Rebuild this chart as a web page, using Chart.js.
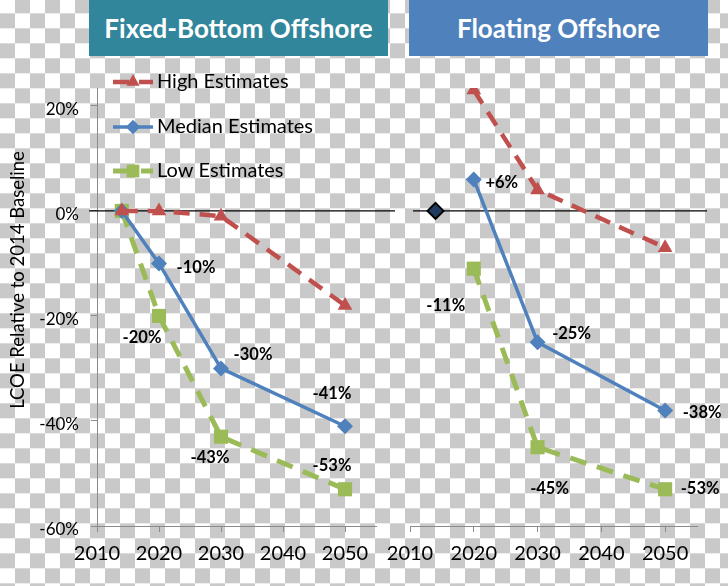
<!DOCTYPE html>
<html>
<head>
<meta charset="utf-8">
<script src="https://cdn.jsdelivr.net/npm/chart.js@4.4.0/dist/chart.umd.min.js"></script>
<style>
html, body { margin: 0; padding: 0; }
body {
  width: 728px; height: 586px; position: relative; overflow: hidden;
  background: repeating-conic-gradient(#c9c9c9 0 25%, #ffffff 0 50%) 0 -1.7px / 30px 30px;
  font-family: Lato, Carlito, "Open Sans", sans-serif;
}
.head {
  position: absolute; top: 0; height: 56px; width: 299px;
  display: flex; align-items: center; justify-content: center;
  color: #fff; font-weight: bold; font-size: 26px;
}
#headL { left: 89px; background: #31869b; }
#headR { left: 409px; background: #4f81bd; }
canvas { position: absolute; top: 0; }
#left { left: 0; }
#right { left: 370px; }
</style>
</head>
<body>
<div class="head" id="headL"></div>
<div class="head" id="headR"></div>
<canvas id="left" width="400" height="586"></canvas>
<canvas id="right" width="358" height="586"></canvas>
<script>
// values (% change vs 2014 baseline)
const fixedYears = [2014, 2020, 2030, 2050];
const fixedHigh = [0, 0, -1, -18];
const fixedMedian = [0, -10, -30, -41];
const fixedLow = [0, -20, -43, -53];

const floatYears = [2020, 2030, 2050];
const floatHigh = [23, 4, -7];
const floatMedian = [6, -25, -38];
const floatLow = [-11, -45, -53];

const baseYear = [2014];
const baseValue = [0];

const seriesNames = ['High Estimates', 'Median Estimates', 'Low Estimates'];
const panelTitles = ['Fixed-Bottom Offshore', 'Floating Offshore'];
const xTickValues = [2010, 2020, 2030, 2040, 2050];
const yTickValues = [-60, -40, -20, 0, 20];
const yTitle = 'LCOE Relative to 2014 Baseline';

document.getElementById('headL').textContent = panelTitles[0];
document.getElementById('headR').textContent = panelTitles[1];

const RED = '#c0504d', BLUE = '#4f81bd', GREEN = '#9bbb59';
const AXIS = '#8a8a8a';
const FONT = 'Lato, Carlito, "Open Sans", sans-serif';
Chart.defaults.font.family = FONT;
Chart.defaults.color = '#000';

function pts(xs, ys) {
  return xs.map((x, i) => ({ x: x, y: ys[i] }));
}

function series(years, high, median, low) {
  return [
    {
      label: seriesNames[0], data: pts(years, high),
      borderColor: RED, backgroundColor: RED, borderWidth: 4.5, borderDash: [16, 10],
      pointStyle: 'triangle', pointRadius: 8.5, pointBorderWidth: 0, pointBackgroundColor: RED
    },
    {
      label: seriesNames[1], data: pts(years, median),
      borderColor: BLUE, backgroundColor: BLUE, borderWidth: 3.5,
      pointStyle: 'rectRot', pointRadius: 8, pointBorderWidth: 0, pointBackgroundColor: BLUE
    },
    {
      label: seriesNames[2], data: pts(years, low),
      borderColor: GREEN, backgroundColor: GREEN, borderWidth: 5, borderDash: [17, 11],
      pointStyle: 'rect', pointRadius: 10, pointBorderWidth: 0, pointBackgroundColor: GREEN
    }
  ];
}

// black line at 0%
const zeroLine = {
  id: 'zeroLine',
  beforeDatasetsDraw(chart, args, opts) {
    const y = chart.scales.y.getPixelForValue(0);
    const ctx = chart.ctx;
    ctx.save();
    ctx.strokeStyle = '#000';
    ctx.lineWidth = 1.2;
    ctx.beginPath();
    ctx.moveTo(opts.from, y);
    ctx.lineTo(opts.to, y);
    ctx.stroke();
    ctx.restore();
  }
};

// percent labels next to points
const pointLabels = {
  id: 'pointLabels',
  afterDatasetsDraw(chart, args, opts) {
    const ctx = chart.ctx;
    ctx.save();
    ctx.font = 'bold 16.5px ' + FONT;
    ctx.fillStyle = '#000';
    ctx.textAlign = 'center';
    ctx.textBaseline = 'middle';
    (opts.items || []).forEach(it => {
      const el = chart.getDatasetMeta(it.ds).data[it.i];
      const v = chart.data.datasets[it.ds].data[it.i].y;
      const txt = (v > 0 ? '+' : '') + v + '%';
      ctx.fillText(txt, el.x + it.dx, el.y + it.dy);
    });
    ctx.restore();
  }
};

// legend: line sample with marker, like the office style one
const lineLegend = {
  id: 'lineLegend',
  afterDraw(chart, args, opts) {
    if (!opts.rows) return;
    const ctx = chart.ctx;
    ctx.save();
    chart.data.datasets.slice(0, 3).forEach((ds, i) => {
      const y = opts.rows[i];
      ctx.save();
      ctx.strokeStyle = ds.borderColor;
      ctx.lineWidth = ds.borderWidth;
      ctx.setLineDash(ds.borderDash || []);
      ctx.beginPath();
      ctx.moveTo(opts.x0, y);
      ctx.lineTo(opts.x1, y);
      ctx.stroke();
      ctx.restore();
      ctx.fillStyle = ds.pointBackgroundColor;
      Chart.helpers.drawPoint(ctx, {
        pointStyle: ds.pointStyle, radius: ds.pointRadius * 0.9, borderWidth: 0, rotation: 0
      }, (opts.x0 + opts.x1) / 2, y);
      ctx.fillStyle = '#000';
      ctx.font = '20px ' + FONT;
      ctx.textAlign = 'left';
      ctx.textBaseline = 'middle';
      ctx.fillText(ds.label, opts.textX, y);
    });
    ctx.restore();
  }
};

// rotated y title
const sideTitle = {
  id: 'sideTitle',
  afterDraw(chart, args, opts) {
    if (!opts.text) return;
    const ctx = chart.ctx;
    ctx.save();
    ctx.translate(opts.x, opts.y);
    ctx.rotate(-Math.PI / 2);
    ctx.font = '18.5px ' + FONT;
    ctx.fillStyle = '#000';
    ctx.textAlign = 'center';
    ctx.textBaseline = 'middle';
    ctx.fillText(opts.text, 0, 0);
    ctx.restore();
  }
};

function options(showY, pad, zero, labels, legend, title) {
  return {
    responsive: false,
    animation: false,
    events: [],
    layout: { padding: pad },
    scales: {
      x: {
        type: 'linear', min: 2010, max: 2055,
        afterBuildTicks: s => { s.ticks = xTickValues.map(v => ({ value: v })); },
        afterFit: s => { s.height = 60; s.paddingLeft = 0; s.paddingRight = 0; },
        ticks: {
          font: { size: 20 }, color: '#000', padding: 10,
          maxRotation: 0, minRotation: 0, autoSkip: false, callback: v => String(v)
        },
        grid: { drawOnChartArea: false, color: AXIS, tickLength: 6 },
        border: { color: AXIS, width: 1 }
      },
      y: {
        display: showY, min: -60, max: 23.4,
        afterBuildTicks: s => { s.ticks = yTickValues.map(v => ({ value: v })); },
        afterFit: s => {
          if (!s.options.display) return;
          s.width = 97; s.paddingTop = 0; s.paddingBottom = 0;
        },
        ticks: {
          font: { size: 17 }, color: '#000', padding: 12, labelOffset: 4,
          callback: v => v + '%'
        },
        grid: { drawOnChartArea: false, color: AXIS, tickLength: 6 },
        border: { color: AXIS, width: 1 }
      }
    },
    plugins: {
      legend: { display: false },
      tooltip: { enabled: false },
      zeroLine: zero,
      pointLabels: { items: labels },
      lineLegend: legend,
      sideTitle: title
    }
  };
}

new Chart(document.getElementById('left'), {
  type: 'line',
  data: { datasets: series(fixedYears, fixedHigh, fixedMedian, fixedLow) },
  options: options(true, { top: 88, left: 0, right: 24, bottom: 0 },
    { from: 89, to: 395 },
    [
      { ds: 1, i: 1, dx: 37, dy: 4 },
      { ds: 1, i: 2, dx: 32, dy: -14 },
      { ds: 1, i: 3, dx: -13, dy: -33 },
      { ds: 2, i: 1, dx: -17, dy: 22 },
      { ds: 2, i: 2, dx: -11, dy: 21 },
      { ds: 2, i: 3, dx: -13, dy: -24 }
    ],
    { rows: [82, 127, 171], x0: 113, x1: 153, textX: 157 },
    { text: yTitle, x: 18, y: 280 }),
  plugins: [zeroLine, pointLabels, lineLegend, sideTitle]
});

const floatSets = series(floatYears, floatHigh, floatMedian, floatLow);
floatSets.push({
  label: '2014 Baseline', data: pts(baseYear, baseValue), showLine: false,
  pointStyle: 'rectRot', pointRadius: 8, pointBackgroundColor: '#1f3b5e',
  pointBorderColor: '#000', pointBorderWidth: 2
});

new Chart(document.getElementById('right'), {
  type: 'line',
  data: { datasets: floatSets },
  options: options(false, { top: 88, left: 40, right: 31, bottom: 0 },
    { from: 43, to: 337 },
    [
      { ds: 1, i: 0, dx: 28, dy: 3 },
      { ds: 1, i: 1, dx: 34, dy: -9 },
      { ds: 1, i: 2, dx: 37, dy: 2 },
      { ds: 2, i: 0, dx: -28, dy: 37 },
      { ds: 2, i: 1, dx: 12, dy: 41 },
      { ds: 2, i: 2, dx: 35, dy: -1 }
    ],
    {}, {}),
  plugins: [zeroLine, pointLabels, lineLegend, sideTitle]
});
</script>
</body>
</html>
